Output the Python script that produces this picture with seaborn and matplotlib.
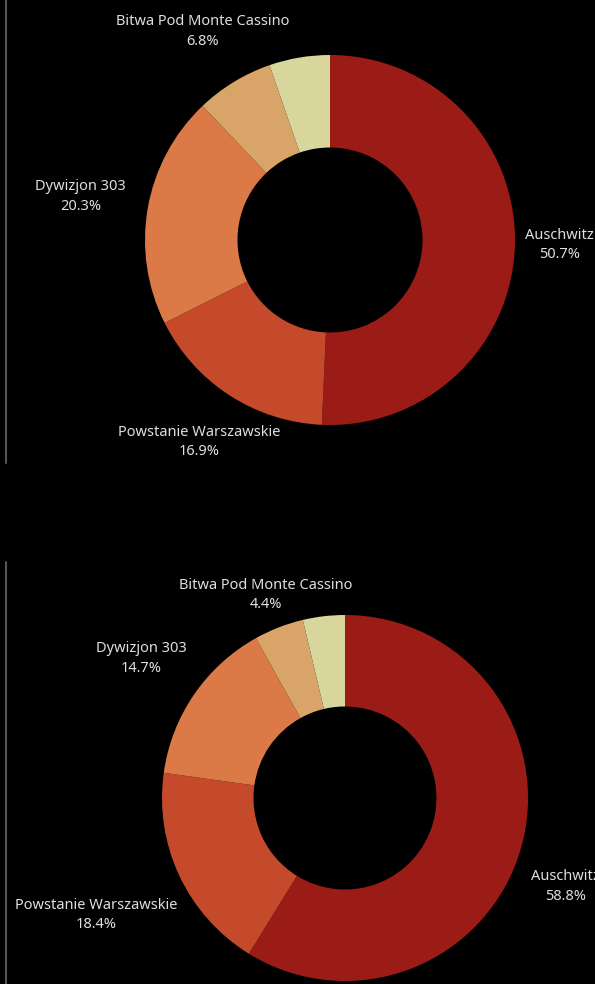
import numpy as np
import matplotlib.pyplot as plt
import seaborn as sns
from matplotlib.lines import Line2D

# chart data
categories = ["Auschwitz", "Powstanie Warszawskie", "Dywizjon 303",
              "Bitwa Pod Monte Cassino", ""]
values_top = [50.7, 16.9, 20.3, 6.8, 5.3]
values_bottom = [58.8, 18.4, 14.7, 4.4, 3.7]
colors = ["#9b1c17", "#c44a2b", "#dc7a47", "#d9a468", "#d8d59d"]

# label placement: distance from centre (x radius) and angle nudge (deg), per slice
label_dist_top = [1.24, 1.30, 1.37, 1.32, 1.3]
label_turn_top = [0, 0, 0, 0, 0]
label_dist_bottom = [1.30, 1.50, 1.35, 1.19, 1.3]
label_turn_bottom = [-6, 0, 0, 0, 0]

sns.set_theme(style="dark", rc={"figure.facecolor": "black", "axes.facecolor": "black"})
plt.rcParams["font.family"] = ["Noto Sans", "DejaVu Sans"]

W, H = 595, 984
fig = plt.figure(figsize=(W / 100, H / 100), dpi=100)
fig.patch.set_facecolor("black")


def draw_donut(values, dists, turns, cx, cy, r):
    # cx, cy in pixels from top-left, r = outer radius in pixels
    ax = fig.add_axes([(cx - r) / W, (H - cy - r) / H, 2 * r / W, 2 * r / H])
    labels = []
    for cat, v in zip(categories, values):
        labels.append(f"{cat}\n{v:.1f}%" if cat else "")
    wedges, texts = ax.pie(values, labels=labels, colors=colors, startangle=90,
                           counterclock=False, labeldistance=1.0,
                           wedgeprops=dict(width=0.5, linewidth=0))
    for w, t, d, turn in zip(wedges, texts, dists, turns):
        ang = np.deg2rad((w.theta1 + w.theta2) / 2 + turn)
        t.set_position((d * np.cos(ang), d * np.sin(ang)))
        t.set_ha("center")
        t.set_va("center")
        t.set_color("#dedede")
        t.set_fontsize(10.5)
        t.set_linespacing(1.4)
    ax.set_xlim(-1, 1)
    ax.set_ylim(-1, 1)
    ax.set_axis_off()
    return ax


draw_donut(values_top, label_dist_top, label_turn_top, 330, 240, 185)
draw_donut(values_bottom, label_dist_bottom, label_turn_bottom, 345, 798, 183)

# panel border lines on the left
fig.add_artist(Line2D([6 / W, 6 / W], [1, 1 - 463 / H], color="#555555", lw=1.5))
fig.add_artist(Line2D([6 / W, 6 / W], [1 - 562 / H, 0], color="#555555", lw=1.5))

fig.savefig("out.png", dpi=100, facecolor="black")
